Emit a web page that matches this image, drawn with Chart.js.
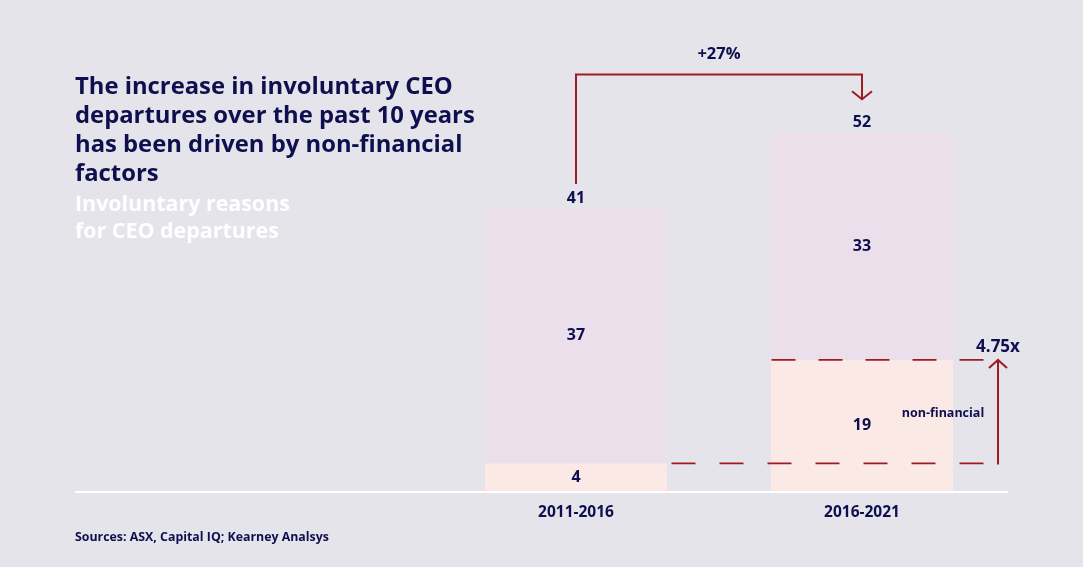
<!DOCTYPE html>
<html>
<head>
<meta charset="utf-8">
<script src="https://cdn.jsdelivr.net/npm/chart.js@4/dist/chart.umd.min.js"></script>
<style>
  html, body { margin: 0; padding: 0; background: #e4e4ea; }
  #wrap { position: relative; width: 1083px; height: 567px; overflow: hidden; background: #e4e4ea; }
  canvas { position: absolute; left: 0; top: 0; }
  .txt { position: absolute; font-family: "Open Sans", Lato, sans-serif; font-weight: 700; white-space: nowrap; }
  #title { left: 75px; top: 71px; font-size: 23px; line-height: 29px; color: #0f0f4f; }
  #subtitle { left: 75px; top: 189px; font-size: 20px; line-height: 27px; color: #ffffff; }
  #sources { left: 75px; top: 529px; font-size: 12px; line-height: 16px; color: #0f0f4f; }
</style>
</head>
<body>
<div id="wrap">
  <canvas id="c" width="1083" height="567"></canvas>
  <div class="txt" id="title"><span id="t1">The increase in involuntary CEO</span><br>departures over the past 10 years<br>has been driven by non-financial<br>factors</div>
  <div class="txt" id="subtitle"><span id="s1">Involuntary reasons</span><br>for CEO departures</div>
  <div class="txt" id="sources"><span id="src1">Sources: ASX, Capital IQ; Kearney Analsys</span></div>
</div>
<script>
const categories = ['2011-2016', '2016-2021'];
const nonFinancial = [4, 19];
const otherReasons = [37, 33];
const totals = [41, 52];
const growthLabel = '+27%';
const multipleLabel = '4.75x';
const segmentLabel = 'non-financial';

const NAVY = '#0f0f4f';
const RED = '#9e1b24';
const FONT = '"Open Sans", Lato, sans-serif';

// fit HTML text blocks to the reference widths
function fitWidth(blockId, spanId, target) {
  const block = document.getElementById(blockId);
  const span = document.getElementById(spanId);
  const size = parseFloat(getComputedStyle(block).fontSize);
  const w = span.getBoundingClientRect().width;
  if (w > 0) block.style.fontSize = (size * target / w).toFixed(2) + 'px';
}
fitWidth('title', 't1', 378);
fitWidth('subtitle', 's1', 215);
fitWidth('sources', 'src1', 254);

function font(size) { return 'bold ' + size + 'px ' + FONT; }

const labelsPlugin = {
  id: 'labels',
  afterDatasetsDraw(chart) {
    const ctx = chart.ctx;
    ctx.save();
    ctx.fillStyle = NAVY;
    ctx.textAlign = 'center';
    ctx.textBaseline = 'middle';
    ctx.font = font(16);
    chart.data.datasets.forEach((ds, di) => {
      const meta = chart.getDatasetMeta(di);
      meta.data.forEach((bar, i) => {
        const cy = (bar.y + bar.base) / 2;
        ctx.fillText(String(ds.data[i]), bar.x, cy);
      });
    });
    const ys = chart.scales.y;
    const top0 = chart.getDatasetMeta(1).data;
    totals.forEach((t, i) => {
      ctx.fillText(String(t), top0[i].x, ys.getPixelForValue(t) - 10);
    });
    ctx.restore();
  }
};

const annotPlugin = {
  id: 'annot',
  beforeDatasetsDraw(chart) {
    const ctx = chart.ctx;
    const area = chart.chartArea;
    ctx.save();
    ctx.strokeStyle = '#ffffff';
    ctx.lineWidth = 2;
    ctx.beginPath();
    ctx.moveTo(75, area.bottom + 1);
    ctx.lineTo(area.right + 3, area.bottom + 1);
    ctx.stroke();
    ctx.restore();
  },
  afterDatasetsDraw(chart) {
    const ctx = chart.ctx;
    const ys = chart.scales.y;
    const bars = chart.getDatasetMeta(0).data;
    const b0 = bars[0], b1 = bars[1];
    const x0 = b0.x, x1 = b1.x;
    const yLow = ys.getPixelForValue(nonFinancial[0]);
    const yHigh = ys.getPixelForValue(nonFinancial[1]);
    const yTot0 = ys.getPixelForValue(totals[0]);
    const yTot1 = ys.getPixelForValue(totals[1]);
    const dashEnd = 983.5;
    const arrowX = 998;

    ctx.save();
    ctx.strokeStyle = RED;
    ctx.lineWidth = 2;
    // bracket
    const bracketY = 74.5;
    const tipY = yTot1 - 33;
    ctx.beginPath();
    ctx.moveTo(x0, yTot0 - 24);
    ctx.lineTo(x0, bracketY);
    ctx.lineTo(x1, bracketY);
    ctx.lineTo(x1, tipY);
    ctx.stroke();
    ctx.beginPath();
    ctx.moveTo(x1 - 10, tipY - 8);
    ctx.lineTo(x1, tipY);
    ctx.lineTo(x1 + 10, tipY - 8);
    ctx.stroke();

    // dashed lines (drawn from right to left)
    ctx.lineWidth = 1.8;
    ctx.setLineDash([24, 24]);
    ctx.beginPath();
    ctx.moveTo(dashEnd, yLow);
    ctx.lineTo(b0.x + b0.width / 2, yLow);
    ctx.stroke();
    ctx.setLineDash([24, 23]);
    ctx.beginPath();
    ctx.moveTo(dashEnd, yHigh);
    ctx.lineTo(b1.x - b1.width / 2, yHigh);
    ctx.stroke();
    ctx.setLineDash([]);

    // vertical arrow
    ctx.lineWidth = 2;
    ctx.beginPath();
    ctx.moveTo(arrowX, yLow + 1);
    ctx.lineTo(arrowX, yHigh);
    ctx.stroke();
    ctx.beginPath();
    ctx.moveTo(arrowX - 9, yHigh + 8);
    ctx.lineTo(arrowX, yHigh);
    ctx.lineTo(arrowX + 9, yHigh + 8);
    ctx.stroke();

    // texts
    ctx.fillStyle = NAVY;
    ctx.textAlign = 'center';
    ctx.textBaseline = 'middle';
    ctx.font = font(16.5);
    ctx.fillText(growthLabel, (x0 + x1) / 2, bracketY - 20);
    ctx.font = font(17);
    ctx.fillText(multipleLabel, arrowX, yHigh - 13);
    ctx.font = font(12.5);
    ctx.fillText(segmentLabel, 943, (yLow + yHigh) / 2 + 2);
    ctx.restore();
  }
};

new Chart(document.getElementById('c'), {
  type: 'bar',
  data: {
    labels: categories,
    datasets: [
      { label: 'Non-financial', data: nonFinancial, backgroundColor: '#fbe9e6' },
      { label: 'Other', data: otherReasons, backgroundColor: '#ecdfec' }
    ]
  },
  options: {
    responsive: false,
    animation: false,
    devicePixelRatio: 1,
    layout: { padding: { left: 433, right: 78, top: 77, bottom: 0 } },
    plugins: { legend: { display: false }, tooltip: { enabled: false }, title: { display: false } },
    datasets: { bar: { barPercentage: 0.636, categoryPercentage: 1, borderWidth: 0 } },
    scales: {
      x: {
        stacked: true,
        grid: { display: false },
        border: { display: false },
        ticks: { color: NAVY, font: { family: FONT, size: 15.5, weight: 'bold' }, padding: 4 },
        afterFit(s) { s.height = 76; }
      },
      y: {
        stacked: true,
        display: false,
        min: 0,
        max: 60
      }
    }
  },
  plugins: [annotPlugin, labelsPlugin]
});
</script>
</body>
</html>
